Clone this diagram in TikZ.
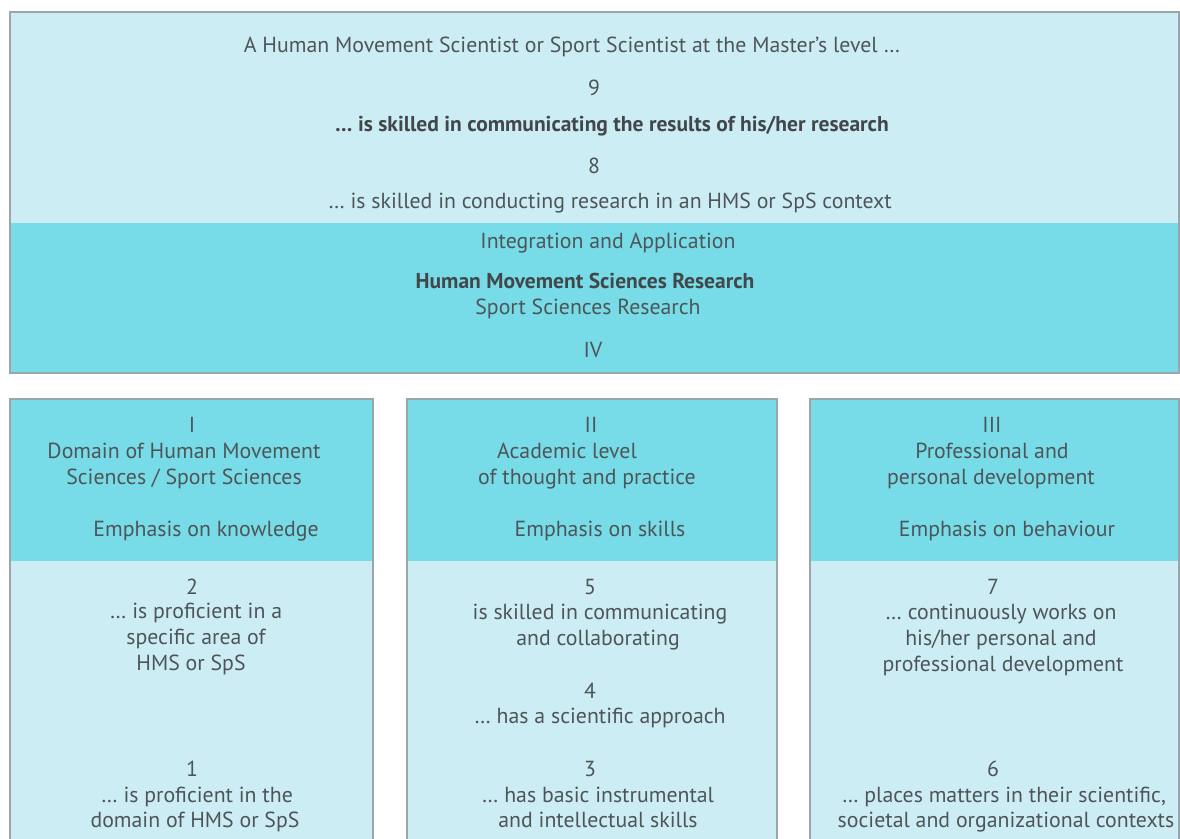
\documentclass[tikz,border=0pt]{standalone}
\usepackage{fontspec}
\setmainfont{PT Sans}
\definecolor{lightc}{HTML}{CDEDF4}
\definecolor{darkc}{HTML}{77DCE7}
\definecolor{edgec}{HTML}{9AA6A9}
\definecolor{txt}{HTML}{4E5558}
\definecolor{txtb}{HTML}{41474A}
\begin{document}
\begin{tikzpicture}[x=1pt,y=-1pt,
  t/.style={text=txt,font=\fontsize{21.8}{24}\selectfont,inner sep=0pt,anchor=base},
  tb/.style={t,text=txtb,font=\fontsize{21.5}{24}\selectfont\bfseries},
  boxline/.style={draw=edgec,line width=1.4pt}]
\useasboundingbox (0,0) rectangle (1180,838);
% top box
\fill[lightc] (10,12) rectangle (1179,223);
\fill[darkc] (10,223) rectangle (1179,373);
\draw[boxline] (10,12) rectangle (1179,373);
% columns
\foreach \xa/\xb in {10/373, 407/777, 810/1179}{
  \fill[darkc] (\xa,399) rectangle (\xb,561);
  \fill[lightc] (\xa,561) rectangle (\xb,845);
  \draw[boxline] (\xa,845) -- (\xa,399) -- (\xb,399) -- (\xb,845);
}
% top texts
\node[t] (h0) at (572,52) {A Human Movement Scientist or Sport Scientist at the Master’s level …};
\node[t] (n9) at (594,95) {9};
\node[tb] (l9) at (612,131) {… is skilled in communicating the results of his/her research};
\node[t] (n8) at (594,173) {8};
\node[t] (l8) at (610,208) {… is skilled in conducting research in an HMS or SpS context};
\node[t] (ia) at (608,248) {Integration and Application};
\node[tb] (hmsr) at (585,288) {Human Movement Sciences Research};
\node[t] (ssr) at (588,314) {Sport Sciences Research};
\node[t] (iv) at (593,357) {IV};
% column I
\node[t] (c1a) at (192,432) {I};
\node[t] (c1b) at (184,458) {Domain of Human Movement};
\node[t] (c1c) at (184,484) {Sciences / Sport Sciences};
\node[t] (c1d) at (206,536) {Emphasis on knowledge};
\node[t] (n2) at (192,594) {2};
\node[t] (c1e) at (196,618) {… is proficient in a};
\node[t] (c1f) at (196,644) {specific area of};
\node[t] (c1g) at (191,670) {HMS or SpS};
\node[t] (n1) at (192,776) {1};
\node[t] (c1h) at (197,802) {… is proficient in the};
\node[t] (c1i) at (195,827) {domain of HMS or SpS};
% column II
\node[t] (c2a) at (591,432) {II};
\node[t] (c2b) at (567,458) {Academic level};
\node[t] (c2c) at (587,484) {of thought and practice};
\node[t] (c2d) at (600,536) {Emphasis on skills};
\node[t] (n5) at (590,594) {5};
\node[t] (c2e) at (600,619) {is skilled in communicating};
\node[t] (c2f) at (598,645) {and collaborating};
\node[t] (n4) at (590,698) {4};
\node[t] (c2g) at (600,723) {… has a scientific approach};
\node[t] (n3) at (590,776) {3};
\node[t] (c2h) at (598,802) {… has basic instrumental};
\node[t] (c2i) at (598,827) {and intellectual skills};
% column III
\node[t] (c3a) at (992,432) {III};
\node[t] (c3b) at (992,458) {Professional and};
\node[t] (c3c) at (991,484) {personal development};
\node[t] (c3d) at (1007,536) {Emphasis on behaviour};
\node[t] (n7) at (993,594) {7};
\node[t] (c3e) at (1001,619) {… continuously works on};
\node[t] (c3f) at (1001,645) {his/her personal and};
\node[t] (c3g) at (1003,671) {professional development};
\node[t] (n6) at (993,776) {6};
\node[t] (c3h) at (1004,802) {… places matters in their scientific,};
\node[t] (c3i) at (1006,827) {societal and organizational contexts};
\end{tikzpicture}
\end{document}
